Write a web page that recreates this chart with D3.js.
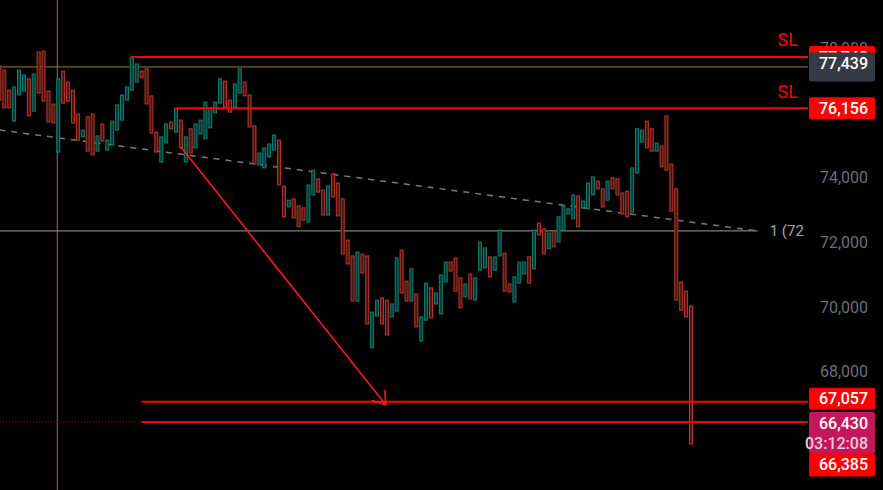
<!DOCTYPE html>
<html>
<head>
<meta charset="utf-8">
<script src="https://cdn.jsdelivr.net/npm/d3@7"></script>
<style>
  html, body { margin: 0; padding: 0; background: #000; }
  svg { display: block; }
</style>
</head>
<body>
<div id="chart"></div>
<script>
// candle data (oldest first)
const candleOpen = [
  77470, 77340, 76720, 75760, 76570, 76690, 77070, 76070, 77900, 77930,
  76690, 76290, 74800, 77310, 76970, 76720, 75980, 75270, 75890, 75980,
  74830, 75670, 74860, 75020, 75480, 75790, 76410, 76720, 76970, 77310,
  77380, 76540, 75420, 74490, 75080, 75730, 75420, 75790, 74490, 75520,
  74930, 75360, 75210, 75550, 76010, 76320, 77000, 76410, 76170, 76630,
  76970, 76570, 75610, 74400, 74310, 74650, 74860, 75170, 73750, 73100,
  73350, 73130, 73070, 72630, 73470, 73970, 73620, 72850, 74120, 73840,
  73350, 72070, 71580, 70180, 71640, 71580, 68730, 69720, 70280, 70210,
  69690, 69870, 71760, 70800, 70180, 70400, 68940, 69590, 70590, 70090,
  69780, 70770, 71390, 71520, 70900, 70310, 71020, 70210, 71140, 71210,
  71550, 71140, 71580, 71670, 70710, 70150, 70740, 71020, 71550, 71180,
  72600, 72420, 71800, 72350, 72010, 72380, 72880, 72730, 73440, 73070,
  73040, 73470, 73900, 73660, 73310, 74000, 73970, 73530, 73590, 72940,
  74150, 75110, 75760, 75520, 74830, 74990, 75920, 74430, 73660, 70770,
  70490, 70030
];
const candleClose = [
  76410, 76170, 76170, 76820, 77340, 77190, 75920, 77220, 76630, 76380,
  75730, 75700, 77070, 76320, 76380, 75700, 75170, 75480, 74830, 74710,
  75300, 75140, 75170, 75760, 76260, 76570, 76820, 77750, 77530, 77100,
  76290, 75390, 74800, 75270, 75670, 75520, 76160, 74930, 75270, 74770,
  75670, 75790, 76350, 76170, 76350, 77070, 76200, 76040, 76910, 77380,
  76540, 75580, 74430, 74770, 74930, 75050, 75330, 73780, 72790, 73310,
  72760, 72480, 72690, 73780, 74240, 73560, 72850, 73750, 73410, 72820,
  71640, 71330, 70180, 71700, 71050, 69470, 69840, 70210, 69470, 69130,
  70090, 71520, 70430, 70180, 71180, 69380, 69690, 70740, 69660, 70430,
  70990, 71390, 71110, 70490, 69970, 70710, 70250, 70900, 72010, 71830,
  70930, 71550, 72380, 70490, 70460, 70930, 71390, 71390, 70740, 72380,
  72230, 71640, 72290, 71860, 72790, 73130, 73040, 73470, 72480, 73280,
  73840, 74030, 73660, 73100, 73900, 73660, 73470, 72880, 72790, 74310,
  75520, 75480, 74930, 74830, 75080, 74340, 74240, 72970, 70210, 69900,
  69690, 65750
];

// price axis ticks (76,000 sits under the SL label in the reference)
const priceTicks = [68000, 70000, 72000, 74000, 78000];

// stop loss levels and where they start (candle index)
const slPrices = [77748, 76156];
const slStart = [27, 36];

// target levels
const targetPrices = [67057, 66430];
const targetStart = 29;

// crosshair
const crossPrice = 77439;
const crossIndex = 11.8;

// last price, low marker and bar countdown
const lastPrice = 66430;
const lowPrice = 66385;
const countdown = "03:12:08";

// dashed trend line and fib level
const trendIndex = [0, 154.6];
const trendPrice = [75484, 72353];
const fibPrice = 72356;
const fibEnd = 154.6;
const fibLabel = "1 (72";

// drawn arrow
const arrowIndex = [37, 78.8];
const arrowPrice = [74957, 66959];

const W = 883, H = 490, plotW = 808;

const svg = d3.select("#chart").append("svg")
  .attr("width", W).attr("height", H)
  .style("background", "#000");

const x = d3.scaleLinear().domain([0, 165]).range([-0.6, 808.7]);
const y = d3.scaleLinear().domain([64324, 79514]).range([H, 0]);

const fmt = d3.format(",");
const font = "Roboto, 'Liberation Sans', sans-serif";

const plot = svg.append("g");

// crosshair
plot.append("line")
  .attr("x1", x(crossIndex)).attr("x2", x(crossIndex))
  .attr("y1", 0).attr("y2", H)
  .attr("stroke", "#8f7f2e").attr("stroke-width", 1);
plot.append("line")
  .attr("x1", 0).attr("x2", plotW)
  .attr("y1", y(crossPrice)).attr("y2", y(crossPrice))
  .attr("stroke", "#8f7f2e").attr("stroke-width", 1);

// fib level line
plot.append("line")
  .attr("x1", 0).attr("x2", x(fibEnd))
  .attr("y1", y(fibPrice)).attr("y2", y(fibPrice))
  .attr("stroke", "#9c9c9c").attr("stroke-width", 1);
plot.append("text")
  .attr("x", x(fibEnd) + 12).attr("y", y(fibPrice))
  .attr("dy", "0.35em")
  .style("font-family", font).style("font-size", "15px")
  .attr("fill", "#a3a6ae")
  .text(fibLabel);

// dashed trend line
plot.append("line")
  .attr("x1", x(trendIndex[0])).attr("x2", x(trendIndex[1]))
  .attr("y1", y(trendPrice[0])).attr("y2", y(trendPrice[1]))
  .attr("stroke", "#7a7a7a").attr("stroke-width", 1.5)
  .attr("stroke-dasharray", "6,6");

// dotted last price line before the target lines
plot.append("line")
  .attr("x1", 0).attr("x2", x(targetStart))
  .attr("y1", y(lastPrice)).attr("y2", y(lastPrice))
  .attr("stroke", "#7a1c1c").attr("stroke-width", 1)
  .attr("stroke-dasharray", "1,2");

// candles
const candles = candleOpen.map((o, i) => ({ i: i, o: o, c: candleClose[i] }));
plot.selectAll("rect.candle")
  .data(candles)
  .join("rect")
  .attr("class", "candle")
  .attr("x", d => x(d.i) - 1.5)
  .attr("width", 3)
  .attr("y", d => y(Math.max(d.o, d.c)))
  .attr("height", d => Math.max(1, y(Math.min(d.o, d.c)) - y(Math.max(d.o, d.c))))
  .attr("fill", d => d.c >= d.o ? "#0a3a34" : "#4a1511")
  .attr("stroke", d => d.c >= d.o ? "#0f7f72" : "#bb372c")
  .attr("stroke-width", 1);

// stop loss lines
slPrices.forEach((p, k) => {
  plot.append("line")
    .attr("x1", x(slStart[k])).attr("x2", plotW)
    .attr("y1", y(p)).attr("y2", y(p))
    .attr("stroke", "#ff0000").attr("stroke-width", 2);
  plot.append("text")
    .attr("x", 798).attr("y", y(p) - 17)
    .attr("text-anchor", "end")
    .attr("dy", "0.35em")
    .style("font-family", font).style("font-size", "18px")
    .attr("fill", "#ff0000")
    .text("SL");
});

// target lines
targetPrices.forEach(p => {
  plot.append("line")
    .attr("x1", x(targetStart)).attr("x2", plotW)
    .attr("y1", y(p)).attr("y2", y(p))
    .attr("stroke", "#ff0000").attr("stroke-width", 2);
});

// arrow
const ax1 = x(arrowIndex[0]), ay1 = y(arrowPrice[0]);
const ax2 = x(arrowIndex[1]), ay2 = y(arrowPrice[1]);
const ang = Math.atan2(ay2 - ay1, ax2 - ax1);
plot.append("line")
  .attr("x1", ax1).attr("y1", ay1).attr("x2", ax2).attr("y2", ay2)
  .attr("stroke", "#ff1a1a").attr("stroke-width", 1.6);
[-0.6, 0.6].forEach(a => {
  plot.append("line")
    .attr("x1", ax2).attr("y1", ay2)
    .attr("x2", ax2 - 15 * Math.cos(ang + a))
    .attr("y2", ay2 - 15 * Math.sin(ang + a))
    .attr("stroke", "#ff1a1a").attr("stroke-width", 1.6);
});

// price axis
const axis = svg.append("g")
  .attr("transform", `translate(${plotW},0)`)
  .call(d3.axisRight(y).tickValues(priceTicks).tickFormat(fmt).tickSize(0));
axis.select(".domain").remove();
axis.selectAll("text")
  .attr("x", 60)
  .attr("text-anchor", "end")
  .style("font-family", font).style("font-size", "16px")
  .attr("fill", "#6b6e77");

// price labels on the axis
function priceBox(cy, h, fill, lines, colors) {
  const g = svg.append("g");
  g.append("rect")
    .attr("x", plotW + 1).attr("y", cy - h / 2)
    .attr("width", 66).attr("height", h)
    .attr("rx", 2)
    .attr("fill", fill);
  lines.forEach((t, k) => {
    g.append("text")
      .attr("x", 868)
      .attr("y", cy - h / 2 + 11 + k * 20)
      .attr("dy", "0.35em")
      .attr("text-anchor", "end")
      .style("font-family", font).style("font-size", "16px")
      .style("font-weight", 500)
      .attr("fill", colors[k])
      .text(t);
  });
}

priceBox(y(slPrices[0]), 22, "#ff0000", [fmt(slPrices[0])], ["#fff"]);
priceBox(y(crossPrice), 29, "#363a45", [fmt(crossPrice)], ["#fff"]);
priceBox(y(slPrices[1]), 22, "#ff0000", [fmt(slPrices[1])], ["#fff"]);
priceBox(y(targetPrices[0]) - 3, 22, "#ff0000", [fmt(targetPrices[0])], ["#fff"]);
priceBox(y(lastPrice) + 11, 42, "#c2185b", [fmt(lastPrice), countdown], ["#fff", "#f2cbd9"]);
priceBox(y(lastPrice) + 43, 23, "#ff0000", [fmt(lowPrice)], ["#fff"]);
</script>
</body>
</html>
